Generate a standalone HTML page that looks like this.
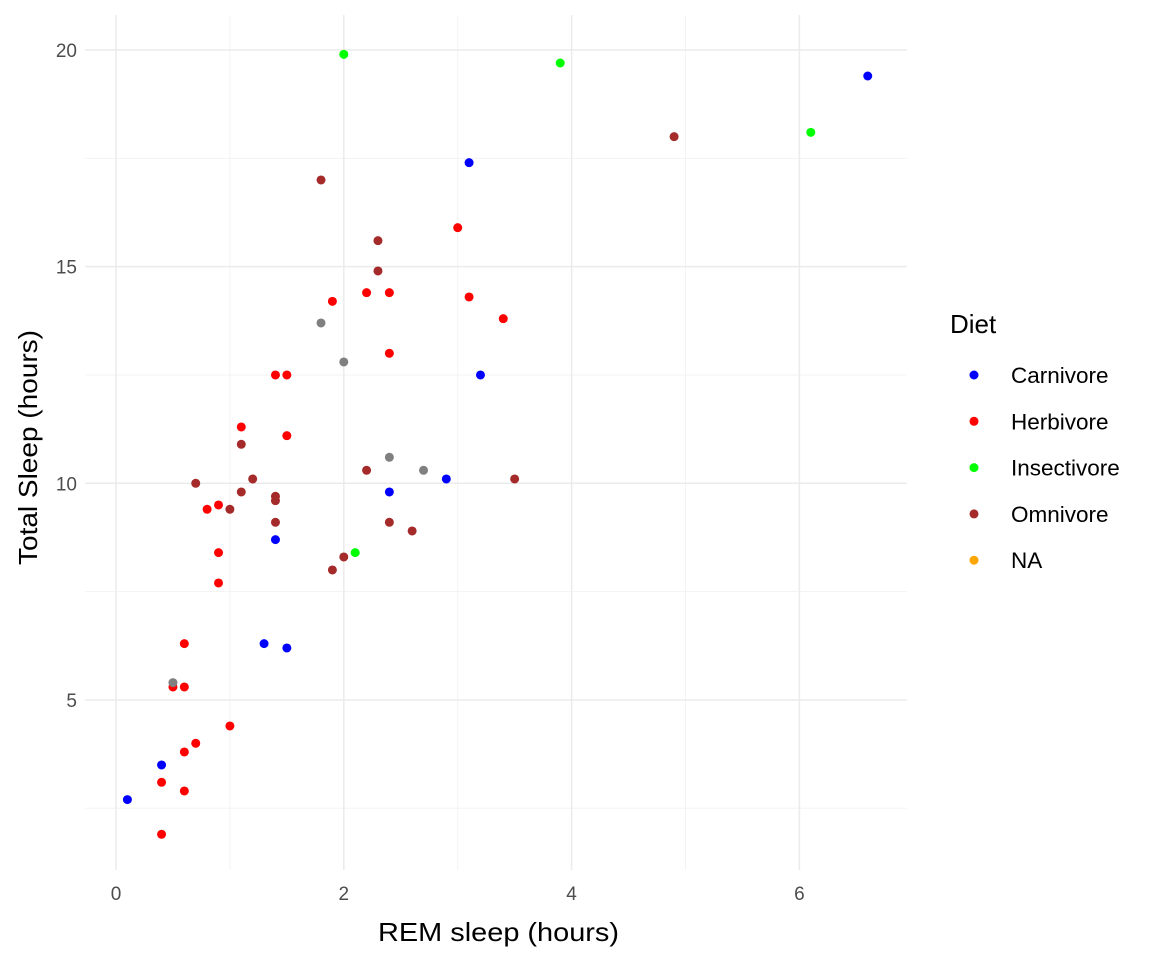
<!DOCTYPE html>
<html><head><meta charset="utf-8"><style>
body{margin:0;background:#fff;}
svg{display:block;font-family:"Liberation Sans",Arial,sans-serif;}
</style></head><body>
<svg id="c" width="1152" height="960"></svg>
<script>
const carnX=[6.6,3.1,3.2,2.9,2.4,1.4,1.3,1.5,0.4,0.1];
const carnY=[19.4,17.4,12.5,10.1,9.8,8.7,6.3,6.2,3.5,2.7];
const herbX=[3.0,1.9,2.2,2.4,3.1,3.4,2.4,1.4,1.5,1.1,1.5,0.8,0.9,0.9,0.9,0.6,0.5,0.6,1.0,0.7,0.6,0.4,0.6,0.4];
const herbY=[15.9,14.2,14.4,14.4,14.3,13.8,13.0,12.5,12.5,11.3,11.1,9.4,9.5,8.4,7.7,6.3,5.3,5.3,4.4,4.0,3.8,3.1,2.9,1.9];
const insX=[2.0,3.9,6.1,2.1];
const insY=[19.9,19.7,18.1,8.4];
const omniX=[4.9,1.8,2.3,2.3,1.1,1.2,0.7,1.0,1.1,1.4,1.4,1.4,2.2,3.5,2.4,2.6,2.0,1.9];
const omniY=[18.0,17.0,15.6,14.9,10.9,10.1,10.0,9.4,9.8,9.7,9.6,9.1,10.3,10.1,9.1,8.9,8.3,8.0];
const naX=[1.8,2.0,2.4,2.7,0.5];
const naY=[13.7,12.8,10.6,10.3,5.4];
const xTicks=[0,2,4,6];
const xMinor=[1,3,5];
const yTicks=[5,10,15,20];
const yMinor=[2.5,7.5,12.5,17.5];
const legendLabels=["Carnivore","Herbivore","Insectivore","Omnivore","NA"];
const legendColors=["#0000ff","#ff0000","#00ff00","#a52a2a","#ffa500"];

const NS="http://www.w3.org/2000/svg";
const svg=document.getElementById('c');
const L=85,R=907,T=15,B=870;
const sx=v=>116+v*113.9;
const sy=v=>50+(20-v)*43.33;
function el(tag,a,txt){const e=document.createElementNS(NS,tag);for(const k in a)e.setAttribute(k,a[k]);if(txt!==undefined)e.textContent=txt;svg.appendChild(e);return e;}

xMinor.forEach(v=>{const e=el('line',{x1:sx(v),x2:sx(v),y1:T,y2:B,stroke:'#f3f3f3','stroke-width':1});

});
yMinor.forEach(v=>{const e=el('line',{x1:L,x2:R,y1:sy(v),y2:sy(v),stroke:'#f3f3f3','stroke-width':1});

});
xTicks.forEach(v=>{const e=el('line',{x1:sx(v),x2:sx(v),y1:T,y2:B,stroke:'#ebebeb','stroke-width':1.5});


const t=el('text',{x:sx(v),y:900,'text-anchor':'middle','font-size':19,fill:'#4d4d4d'},String(v));

});
yTicks.forEach(v=>{const e=el('line',{x1:L,x2:R,y1:sy(v),y2:sy(v),stroke:'#ebebeb','stroke-width':1.5});


const t=el('text',{x:77,y:sy(v)+7,'text-anchor':'end','font-size':19,fill:'#4d4d4d'},String(v));

});

const xt=el('text',{x:378,y:941,'font-size':26,fill:'#000',textLength:241,lengthAdjust:'spacingAndGlyphs'},'REM sleep (hours)');


const yt=el('text',{x:37,y:565,'font-size':26,fill:'#000',textLength:235,lengthAdjust:'spacingAndGlyphs',transform:'rotate(-90 37 565)'},'Total Sleep (hours)');



function series(xs,ys,col,name){xs.forEach((x,i)=>{const c=el('circle',{cx:sx(x),cy:sy(ys[i]),r:4.5,fill:col});

});}
series(carnX,carnY,'#0000ff','point-carnivore');
series(herbX,herbY,'#ff0000','point-herbivore');
series(insX,insY,'#00ff00','point-insectivore');
series(omniX,omniY,'#a52a2a','point-omnivore');
series(naX,naY,'#808080','point-na');

const lt=el('text',{x:950,y:333,'font-size':26,fill:'#000'},'Diet');


legendLabels.forEach((s,i)=>{const y=375+i*46.3;
const c=el('circle',{cx:974,cy:y,r:4.5,fill:legendColors[i]});


const t=el('text',{x:1011,y:y+8,'font-size':22.5,fill:'#000'},s);

});
</script>
</body></html>
